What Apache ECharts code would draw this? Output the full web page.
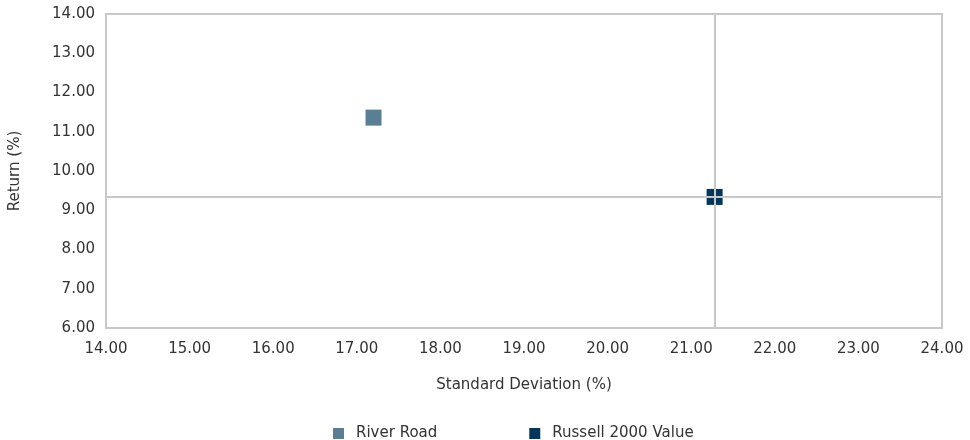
<!DOCTYPE html>
<html><head><meta charset="utf-8">
<script src="https://cdn.jsdelivr.net/npm/echarts@6/dist/echarts.min.js"></script>
<style>html,body{margin:0;padding:0;background:#fff}#c{width:970px;height:440px}</style>
</head><body><div id="c"></div>
<script>
const seriesNames = ['River Road', 'Russell 2000 Value'];
const stdDev = [17.20, 21.28];
const returns = [11.36, 9.34];
const colors = ['#5a7f94', '#03365d'];
const xTicks = {min: 14, max: 24, interval: 1};
const yTicks = {min: 6, max: 14, interval: 1};
const font = '"DejaVu Sans", sans-serif';

const chart = echarts.init(document.getElementById('c'));
const series = seriesNames.map((n, i) => ({
  name: n, type: 'scatter', symbol: 'rect', symbolSize: 16,
  itemStyle: {color: colors[i], opacity: 1},
  data: [[stdDev[i], returns[i]]], z: 2
}));
series.push({
  type: 'line', data: [], z: 5, silent: true,
  markLine: {
    symbol: 'none', silent: true, label: {show: false},
    lineStyle: {color: '#c8c8c8', width: 2, type: 'solid'},
    data: [{xAxis: stdDev[1]}, {yAxis: returns[1]}]
  }
});
chart.setOption({
  animation: false,
  textStyle: {fontFamily: font},
  grid: {left: 106, right: 28, top: 14, bottom: 112, show: true, borderColor: '#c8c8c8', borderWidth: 2},
  xAxis: {
    type: 'value', min: xTicks.min, max: xTicks.max, interval: xTicks.interval,
    name: 'Standard Deviation (%)', nameLocation: 'middle', nameGap: 50,
    nameTextStyle: {color: '#333', fontSize: 15, fontFamily: font},
    axisLine: {show: false}, axisTick: {show: false}, splitLine: {show: false},
    axisLabel: {color: '#333', fontSize: 15, margin: 14, fontFamily: font, formatter: v => v.toFixed(2)}
  },
  yAxis: {
    type: 'value', min: yTicks.min, max: yTicks.max, interval: yTicks.interval,
    name: 'Return (%)', nameLocation: 'middle', nameGap: 83, nameRotate: 90,
    nameTextStyle: {color: '#333', fontSize: 15, fontFamily: font},
    axisLine: {show: false}, axisTick: {show: false}, splitLine: {show: false},
    axisLabel: {color: '#333', fontSize: 15, margin: 11, fontFamily: font, formatter: v => v.toFixed(2)}
  },
  legend: {
    data: seriesNames, top: 421, left: 328, itemGap: 92,
    itemWidth: 11, itemHeight: 11, icon: 'rect',
    textStyle: {color: '#333', fontSize: 15, fontFamily: font, padding: [0, 0, 0, 7]}
  },
  series: series
});
</script></body></html>
